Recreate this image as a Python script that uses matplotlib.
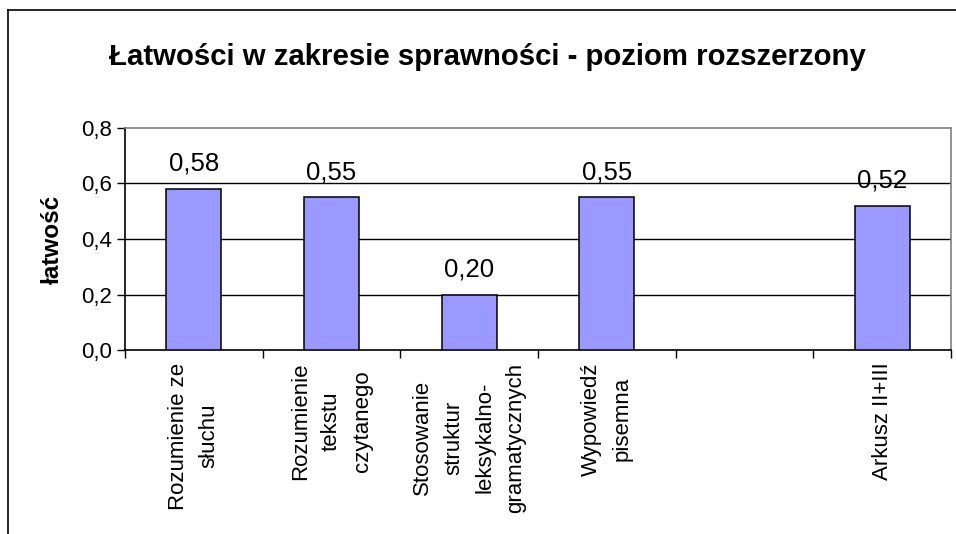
import matplotlib
matplotlib.use("Agg")
import matplotlib.pyplot as plt
from matplotlib.lines import Line2D
from matplotlib.ticker import FuncFormatter, FixedLocator

# dane z wykresu
kategorie = ["Rozumienie ze\nsłuchu", "Rozumienie\ntekstu\nczytanego",
             "Stosowanie\nstruktur\nleksykalno-\ngramatycznych",
             "Wypowiedź\npisemna", "", "Arkusz II+III"]
latwosc = [0.58, 0.55, 0.20, 0.55, None, 0.52]
y_ticks = [0.0, 0.2, 0.4, 0.6, 0.8]
tytul = "Łatwości w zakresie sprawności - poziom rozszerzony"
os_y = "łatwość"

plt.rcParams['font.family'] = ['Liberation Sans', 'DejaVu Sans']

fig = plt.figure(figsize=(9.56, 5.34), dpi=100)
ax = fig.add_axes([125/956, 1-350/534, 826/956, 222/534])

x = [i for i, v in enumerate(latwosc) if v is not None]
h = [v for v in latwosc if v is not None]
ax.bar(x, h, width=0.4, color="#9999FF", edgecolor="black", linewidth=1.1, zorder=3)

for xi, v in zip(x, h):
    ax.annotate(f"{v:.2f}".replace(".", ","), (xi, v), xytext=(0, 13),
                textcoords="offset points", ha="center", va="baseline", fontsize=18.5)

ax.set_xlim(-0.5, len(kategorie) - 0.5)
ax.set_ylim(0, 0.8)
ax.set_yticks(y_ticks)
ax.yaxis.set_major_formatter(FuncFormatter(lambda v, p: f"{v:.1f}".replace(".", ",")))
ax.tick_params(axis="y", labelsize=16, length=6, width=1, direction="out", pad=3)

ax.set_xticks(range(len(kategorie)))
ax.set_xticklabels(kategorie, rotation=90, ha="center", va="top",
                   multialignment="center", fontsize=16, linespacing=1.62)
ax.tick_params(axis="x", which="major", length=0, pad=9)
ax.xaxis.set_minor_locator(FixedLocator([i - 0.5 for i in range(len(kategorie) + 1)]))
ax.tick_params(axis="x", which="minor", length=6, width=1, direction="out")

ax.yaxis.grid(True, color="black", linewidth=1, zorder=1)
ax.set_axisbelow(True)
ax.yaxis.get_gridlines()[-1].set_visible(False)
ax.yaxis.get_gridlines()[0].set_visible(False)

for s in ["top", "right"]:
    ax.spines[s].set_color("#808080")
    ax.spines[s].set_linewidth(1.2)
for s in ["left", "bottom"]:
    ax.spines[s].set_color("black")
    ax.spines[s].set_linewidth(1.2)

fig.text(0.51, 1-65/534, tytul, ha="center", va="baseline", fontsize=21.2, fontweight="bold")
fig.text(52/956, 1-239/534, os_y, ha="center", va="center", rotation=90,
         fontsize=17.5, fontweight="bold")

# ramka wykresu
fig.add_artist(Line2D([8/956, 8/956], [0, 1-10/534], color="black", lw=1.2,
                      transform=fig.transFigure))
fig.add_artist(Line2D([8/956, 1], [1-10/534, 1-10/534], color="black", lw=1.2,
                      transform=fig.transFigure))

fig.savefig("out.png", dpi=100)
